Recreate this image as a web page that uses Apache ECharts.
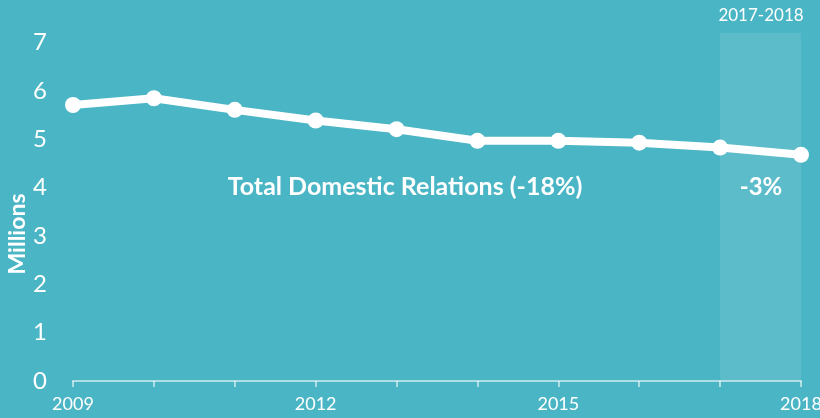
<!DOCTYPE html>
<html>
<head>
<meta charset="utf-8">
<script src="https://cdn.jsdelivr.net/npm/echarts@6/dist/echarts.min.js"></script>
<style>
  html, body { margin: 0; padding: 0; background: #4ab5c4; }
  #chart { width: 820px; height: 418px; }
</style>
</head>
<body>
<div id="chart"></div>
<script>
// data
const years = ['2009', '2010', '2011', '2012', '2013', '2014', '2015', '2016', '2017', '2018'];
const relations = [5.71, 5.85, 5.61, 5.39, 5.21, 4.97, 4.97, 4.93, 4.83, 4.68];
const highlight = ['2017', '2018'];
const yTicks = [0, 1, 2, 3, 4, 5, 6, 7];

const font = 'Lato, "Open Sans", sans-serif';
const chart = echarts.init(document.getElementById('chart'));

chart.setOption({
  backgroundColor: '#4ab5c4',
  animation: false,
  grid: { left: 73, right: 19, top: 33, bottom: 37, outerBoundsMode: 'none' },
  xAxis: {
    type: 'category',
    data: years,
    boundaryGap: false,
    axisLine: { lineStyle: { color: 'rgba(255,255,255,0.55)', width: 2 } },
    axisTick: { length: 6, alignWithLabel: true, interval: 0, lineStyle: { color: 'rgba(255,255,255,0.55)', width: 2 } },
    axisLabel: { interval: 2, color: '#fff', fontSize: 18, margin: 14, fontFamily: font }
  },
  yAxis: {
    type: 'value',
    min: 0,
    max: 7.2,
    interval: 1,
    splitLine: { show: false },
    axisLine: { show: false },
    axisTick: { show: false },
    axisLabel: {
      color: '#fff', fontSize: 24, margin: 26, fontFamily: font,
      formatter: v => yTicks.includes(v) ? String(v) : ''
    }
  },
  series: [{
    type: 'line',
    data: relations,
    symbol: 'circle',
    symbolSize: 16,
    lineStyle: { color: '#fff', width: 8 },
    itemStyle: { color: '#fff' },
    z: 5,
    markArea: {
      silent: true,
      itemStyle: { color: 'rgba(255,255,255,0.1)' },
      data: [[{ xAxis: highlight[0] }, { xAxis: highlight[1] }]]
    }
  }],
  graphic: [
    {
      type: 'text', x: 761, y: 16,
      style: { text: '2017-2018', fill: '#fff', font: '17px ' + font, align: 'center', verticalAlign: 'middle' }
    },
    {
      type: 'text', x: 405, y: 187,
      style: { text: 'Total Domestic Relations (-18%)', fill: '#fff', font: 'bold 25px ' + font, align: 'center', verticalAlign: 'middle' }
    },
    {
      type: 'text', x: 761, y: 187,
      style: { text: '-3%', fill: '#fff', font: 'bold 24px ' + font, align: 'center', verticalAlign: 'middle' }
    },
    {
      type: 'text', x: 18, y: 234, rotation: Math.PI / 2,
      style: { text: 'Millions', fill: '#fff', font: 'bold 23px ' + font, align: 'center', verticalAlign: 'middle' }
    }
  ]
});
</script>
</body>
</html>
